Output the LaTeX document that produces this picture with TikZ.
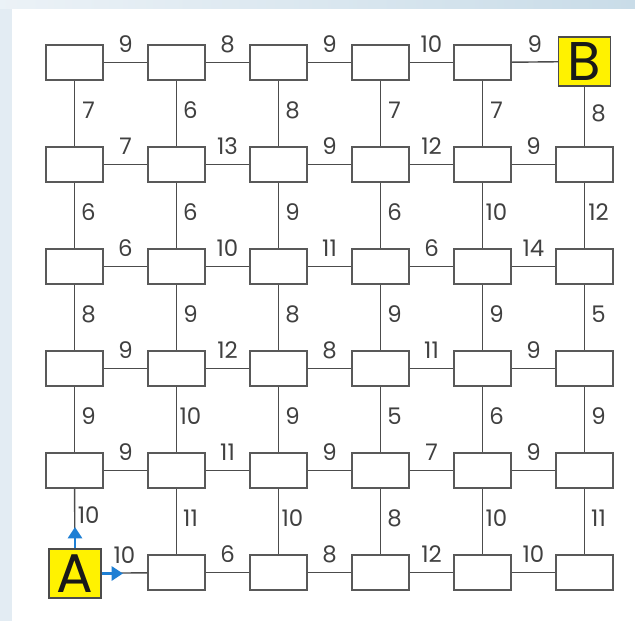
\documentclass[tikz,border=0pt]{standalone}
\usepackage{fontspec}
\setmainfont{Poppins}
\usepackage{xcolor}
\usetikzlibrary{arrows.meta}
\definecolor{pathblue}{HTML}{1E7FD4}
\definecolor{frameblue}{HTML}{E3ECF3}
\definecolor{framedark}{HTML}{C9DCE8}
\definecolor{termyellow}{HTML}{FFF200}

\begin{document}
\begin{tikzpicture}[x=0.02cm,y=-0.02cm,
    cell/.style={draw=black!65,line width=0.7pt,fill=white,
                 minimum width=1.14cm,minimum height=0.7cm,inner sep=0pt},
    term/.style={draw=black!70,line width=0.7pt,fill=termyellow,
                 minimum width=1.04cm,minimum height=0.98cm,inner sep=0pt,
                 font=\fontsize{31}{31}\selectfont,text=black!90},
    link/.style={draw=black!70,line width=0.8pt},
    cost/.style={font=\fontsize{13}{13}\selectfont,text=black!75,inner sep=0pt},
    hcost/.style={cost,midway,above=0.18cm},
    vcost/.style={cost,midway,xshift=0.28cm,yshift=0.06cm},
    start/.style={-{Triangle[length=6.5pt,width=8pt]},line width=1.6pt,draw=pathblue}
  ]
    % frame
    \fill[frameblue] (0,0) rectangle (635,621);
    \shade[left color=frameblue!70!white,right color=framedark] (0,0) rectangle (635,9);
    \fill[white] (12,9) rectangle (635,621);

    % grid of cells
    \foreach \c in {0,...,5}
      \foreach \r in {0,...,5}{
        \ifnum\c\r=05 \else\ifnum\c\r=50 \else
          \node[cell] (n\c\r) at ({74.5+102*\c},{62.5+102*\r}) {};
        \fi\fi
      }
    \node[term] (n05) at (75,573.5) {A};
    \node[term] (n50) at (584.5,61.5) {B};

    % horizontal links
    \foreach \r/\costs in {0/{9,8,9,10,9},1/{7,13,9,12,9},2/{6,10,11,6,14},
                           3/{9,12,8,11,9},4/{9,11,9,7,9},5/{10,6,8,12,10}}
      \foreach \w [count=\d] in \costs{
        \pgfmathtruncatemacro\c{\d-1}
        \draw[link] (n\c\r) -- node[hcost] {\w} (n\d\r);
      }

    % vertical links
    \foreach \c/\costs in {0/{7,6,8,9,10},1/{6,6,9,10,11},2/{8,9,8,9,10},
                           3/{7,6,9,5,8},4/{7,10,9,6,10},5/{8,12,5,9,11}}
      \foreach \w [count=\d] in \costs{
        \pgfmathtruncatemacro\r{\d-1}
        \draw[link] (n\c\r) -- node[vcost] {\w} (n\c\d);
      }

    % start arrows
    \coordinate (upTip) at (75,527);
    \coordinate (rightTip) at (123,573.5);
    \draw[start] (n05) -- (upTip);
    \draw[start] (n05) -- (rightTip);
  \end{tikzpicture}
\end{document}
